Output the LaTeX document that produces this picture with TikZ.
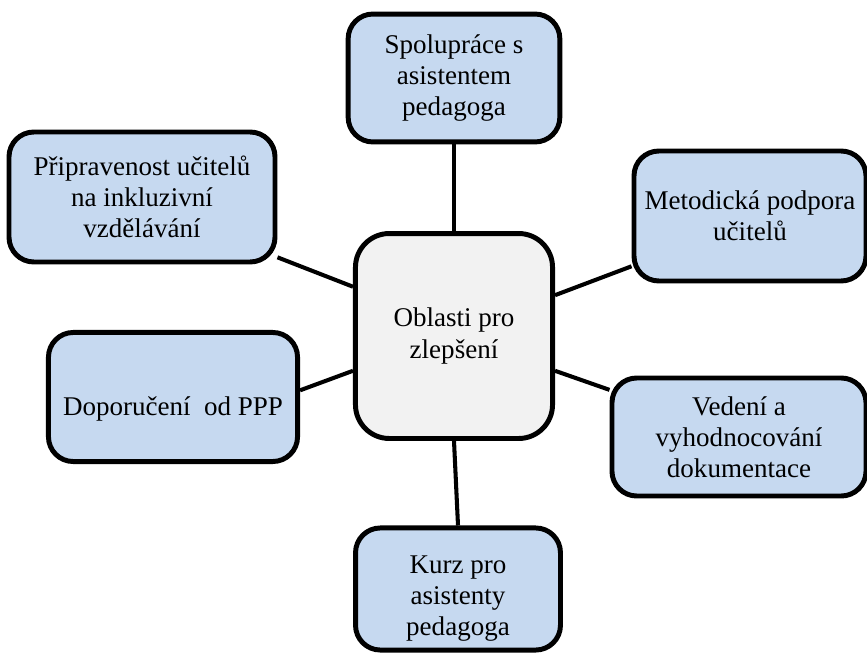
\documentclass[tikz,border=0pt]{standalone}
\usepackage{fontspec}
\setmainfont{Liberation Serif}
\definecolor{leafblue}{HTML}{C6D9F0}
\definecolor{hubgray}{HTML}{F2F2F2}

\begin{document}
\begin{tikzpicture} [x = 0.444pt, y = -0.444pt,
  box/.style = {draw = black, line width = 2.2pt, rounded corners = 11pt,
    align = center, font = \fontsize{12}{13.8}\selectfont, inner sep = 2pt},
  leaf/.style = {box, fill = leafblue},
  hub/.style = {box, fill = hubgray, rounded corners = 15pt},
  link/.style = {line width = 1.8pt}]
\useasboundingbox (0, 0) rectangle (867, 654);
% centre and the six areas
\node[hub, minimum width = 87.5pt, minimum height = 91pt] (ob) at (454, 336){Oblasti pro\\ zlepšení};
\node[leaf, minimum width = 94pt, minimum height = 56.8pt] (sp) at (454, 78){Spolupráce s\\ asistentem\\ pedagoga};
\node[leaf, minimum width = 118.1pt, minimum height = 57.7pt] (pr) at (142, 197){Připravenost učitelů\\ na inkluzivní\\ vzdělávání};
\node[leaf, minimum width = 103pt, minimum height = 57.7pt] (me) at (750, 216){Metodická podpora\\ učitelů};
\node[leaf, minimum width = 110.6pt, minimum height = 57.3pt, text height = 19pt] (do) at (173, 397){Doporučení\ \ od PPP};
\node[leaf, minimum width = 112.8pt, minimum height = 52.4pt] (ve) at (739, 437){Vedení a\\ vyhodnocování\\ dokumentace};
\node[leaf, minimum width = 91pt, minimum height = 54.2pt, text height = 44pt] (ku) at (458, 589){Kurz pro\\ asistenty\\ pedagoga};
% connectors
\draw[link] (sp.south) -- (ob.north);
\draw[link] (pr.-24) -- (ob.154);
\draw[link] (me.203) -- (ob.22);
\draw[link] (do.3) -- (ob.199);
\draw[link] (ve.160) -- (ob.-19);
\draw[link] (ob.south) -- (ku.north);
\end{tikzpicture}
\end{document}
